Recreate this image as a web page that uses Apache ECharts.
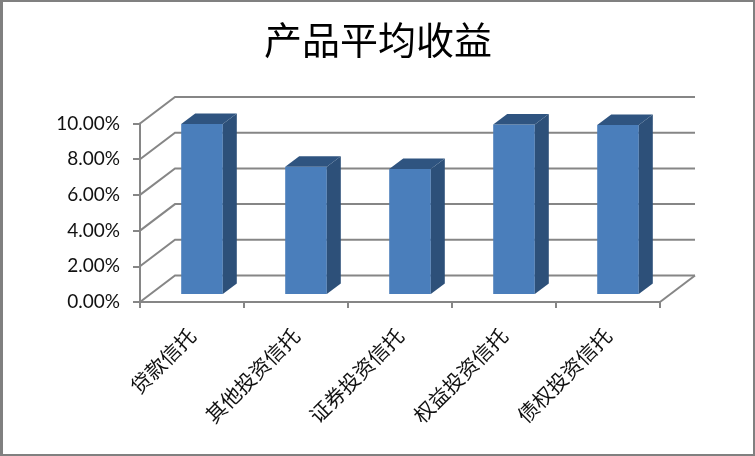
<!DOCTYPE html>
<html><head><meta charset="utf-8">
<style>html,body{margin:0;padding:0;background:#fff}#c{width:755px;height:456px}</style>
<script src="https://cdn.jsdelivr.net/npm/echarts@6/dist/echarts.min.js"></script>
</head><body><div id="c"></div>
<script>
const categories = ['贷款信托','其他投资信托','证券投资信托','权益投资信托','债权投资信托'];
const averageYield = [9.52, 7.13, 7.00, 9.50, 9.47];
const yTicks = [0, 2, 4, 6, 8, 10];
const titleText = '产品平均收益';

const chart = echarts.init(document.getElementById('c'), null, {renderer:'canvas'});
const lineColor = '#868686';
const DX = 35, DY = -26.5;        // depth of the 3D box
const F = 0.3, B = 0.4;           // bar's front plane and thickness as depth fractions

function wallItem(params, api) {
  const v = api.value(0);
  const cs = params.coordSys;
  const y = api.coord([0, v])[1];
  const x0 = cs.x, x1 = cs.x + cs.width;
  const style = {stroke: lineColor, lineWidth: 2, fill: null};
  const kids = [
    {type:'polyline', shape:{points:[[x0,y],[x0+DX,y+DY],[x1+DX,y+DY]]}, style}
  ];
  if (v === 0) kids.push({type:'line', shape:{x1:x1,y1:y,x2:x1+DX,y2:y+DY}, style});
  return {type:'group', children:kids};
}
function barItem(params, api) {
  const top = api.coord([api.value(0), api.value(1)]);
  const base = api.coord([api.value(0), 0]);
  const w = api.size([1, 0])[0] * 0.4;
  const fx = F * DX, fy = F * DY, bx = B * DX, by = B * DY;
  const l = top[0] - w/2 + fx - 0.5, r = l + w;
  const t = top[1] + fy, b = base[1] + fy;
  return {type:'group', children:[
    {type:'rect', shape:{x:l,y:t,width:w,height:b-t}, style:{fill:'#4A7EBB'}},
    {type:'polygon', shape:{points:[[r,t],[r+bx,t+by],[r+bx,b+by],[r,b]]}, style:{fill:'#2D5079'}},
    {type:'polygon', shape:{points:[[l,t],[l+bx,t+by],[r+bx,t+by],[r,t]]}, style:{fill:'#2F5480'}}
  ]};
}

chart.setOption({
  animation:false,
  backgroundColor:'#fff',
  title:{text:titleText, left:373, top:16, textAlign:'center',
    textStyle:{fontFamily:'"Noto Sans CJK SC"', fontWeight:'normal', fontSize:38, color:'#000'}},
  grid:{left:140, top:123.5, width:520, height:178.5},
  xAxis:{type:'category', data:categories,
    axisLine:{show:true, lineStyle:{color:lineColor, width:2}},
    axisTick:{show:true, length:6, lineStyle:{color:lineColor, width:2}},
    axisLabel:{interval:0, rotate:45, fontFamily:'"Noto Sans CJK SC"', fontSize:20.5, color:'#111', margin:30},
    splitLine:{show:false}},
  yAxis:{type:'value', min:0, max:10, interval:2,
    axisLine:{show:true, lineStyle:{color:lineColor, width:2}},
    axisTick:{show:true, length:7, lineStyle:{color:lineColor, width:2}},
    axisLabel:{formatter:v=>v.toFixed(2)+'%', fontFamily:'Lato', fontSize:19, color:'#111', margin:20, padding:[5,0,0,0]},
    splitLine:{show:false}},
  series:[
    {type:'custom', clip:false, silent:true, z:1, data:yTicks.map(v=>[v]), renderItem:wallItem, encode:{y:0}},
    {type:'custom', clip:false, silent:true, z:2, data:averageYield.map((v,i)=>[i,v]), renderItem:barItem, encode:{x:0,y:1}}
  ],
  graphic:[
    {type:'rect', z:100, shape:{x:0,y:0,width:755,height:2}, style:{fill:'#808080'}},
    {type:'rect', z:100, shape:{x:0,y:0,width:3,height:456}, style:{fill:'#808080'}},
    {type:'rect', z:100, shape:{x:753,y:0,width:2,height:456}, style:{fill:'#808080'}},
    {type:'rect', z:100, shape:{x:0,y:454,width:755,height:2}, style:{fill:'#808080'}}
  ]
});
</script></body></html>
